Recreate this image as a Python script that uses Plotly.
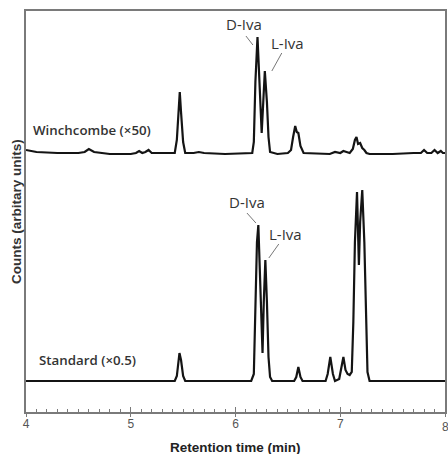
import plotly.graph_objects as go

# ---------------- data (retention time in min, counts in arbitrary units) -------------
time_std = [4.00, 5.42, 5.44, 5.455, 5.465, 5.48, 5.50, 5.52,
            6.15, 6.175, 6.19, 6.205, 6.218, 6.23, 6.245, 6.258, 6.27, 6.285, 6.30, 6.315, 6.33, 6.35,
            6.56, 6.58, 6.60, 6.62, 6.64,
            6.86, 6.88, 6.905, 6.93, 6.95, 6.99, 7.01, 7.03, 7.05, 7.07, 7.09, 7.11,
            7.125, 7.14, 7.16, 7.178, 7.19, 7.21, 7.23, 7.245, 7.26, 7.28, 8.00]
counts_std = [31, 31, 36, 52, 59, 52, 36, 31,
              31, 38, 110, 170, 187, 150, 85, 59, 110, 152, 110, 55, 35, 31,
              31, 35, 45, 35, 31,
              31, 38, 55, 38, 31, 33, 45, 55, 42, 38, 37, 40,
              90, 170, 220, 147, 190, 222, 170, 90, 40, 31, 31]

time_win = [4.00, 4.10, 4.30, 4.50, 4.56, 4.60, 4.65, 4.80, 5.00, 5.05, 5.08, 5.11, 5.14, 5.17, 5.20,
            5.42, 5.44, 5.455, 5.468, 5.48, 5.50, 5.52, 5.60, 5.65, 5.70, 5.90, 6.10,
            6.16, 6.175, 6.19, 6.21, 6.225, 6.24, 6.25, 6.265, 6.28, 6.30, 6.315, 6.33,
            6.40, 6.50, 6.53, 6.55, 6.57, 6.585, 6.60, 6.62, 6.65,
            6.90, 6.95, 7.00, 7.03, 7.06, 7.09, 7.12, 7.14, 7.155, 7.17, 7.19, 7.21, 7.23, 7.25, 7.28,
            7.50, 7.70, 7.77, 7.80, 7.83, 7.87, 7.90, 7.93, 7.96, 7.98, 8.00]
counts_win = [262, 260, 259, 259, 260, 263, 260, 258, 258, 259, 261, 259, 260, 262, 259,
              259, 272, 300, 320, 300, 270, 259, 259, 260, 259, 258, 259,
              259, 270, 330, 375, 340, 292, 279, 310, 341, 310, 275, 260,
              258, 259, 262, 275, 286, 280, 279, 266, 259,
              258, 260, 259, 261, 260, 259, 263, 272, 275, 268, 269, 264, 262, 259, 258,
              258, 259, 259, 262, 259, 259, 262, 259, 261, 259, 259]

x_ticks = [4, 5, 6, 7, 8]
x_tick_labels = ["4", "5", "6", "7", "8"]
trace_labels = ["Winchcombe (×50)", "Standard (×0.5)"]
peak_labels = ["D-Iva", "L-Iva"]

# ---------------- layout helpers (pixel -> data coordinates) ----------------
X0, X1, PX0, PX1 = 4.0, 8.0, 26, 447
Y_BOTTOM_PX = 412


def dx(px):
    return X0 + (px - PX0) * (X1 - X0) / (PX1 - PX0)


def dy(py):
    return Y_BOTTOM_PX - py


fig = go.Figure()
fig.add_trace(go.Scatter(x=time_win, y=counts_win, mode="lines",
                         line=dict(color="#141414", width=2.2), hoverinfo="skip", showlegend=False))
fig.add_trace(go.Scatter(x=time_std, y=counts_std, mode="lines",
                         line=dict(color="#141414", width=2.2), hoverinfo="skip", showlegend=False))
# invisible helper trace so the overlaid tick axis is drawn
fig.add_trace(go.Scatter(x=x_ticks, y=[None] * len(x_ticks), mode="none", xaxis="x2",
                         hoverinfo="skip", showlegend=False))

axis_col = "#7a7a7a"
tick_font = dict(family="Liberation Sans, Arial", size=12, color="#555555")
fig.update_layout(
    width=448, height=454,
    margin=dict(l=26, r=1, t=11, b=42),
    paper_bgcolor="white", plot_bgcolor="white",
    xaxis=dict(range=[X0, X1], showgrid=False, zeroline=False, showline=True, linecolor=axis_col,
               linewidth=1.5, mirror=True, tickmode="array", tickvals=x_ticks[:-1],
               ticktext=x_tick_labels[:-1],
               ticks="inside", ticklen=5, tickwidth=1.2, tickcolor=axis_col,
               minor=dict(dtick=0.1, ticks="inside", ticklen=3, tickwidth=1, tickcolor=axis_col),
               tickfont=tick_font),
    xaxis2=dict(range=[X0, X1], overlaying="x", side="bottom", anchor="y", showgrid=False,
                zeroline=False, showline=False, tickmode="array", tickvals=x_ticks,
                showticklabels=False, ticks="outside", ticklen=4, tickwidth=1.2, tickcolor=axis_col),
    yaxis=dict(range=[0, 401], showgrid=False, zeroline=False, showline=True, linecolor=axis_col,
               linewidth=1.5, mirror=True, showticklabels=False, ticks=""),
)

label_font = dict(family="Open Sans", size=13.3, color="#333333", weight=600)
peak_font = dict(family="Open Sans", size=15, color="#333333")
annotations = [
    dict(text=x_tick_labels[-1], x=x_ticks[-1], xref="x", yref="paper", y=(412 - 427) / 401,
         xanchor="center", yanchor="middle", showarrow=False, font=tick_font),
    dict(text="Retention time (min)", xref="paper", yref="paper", x=(237 - PX0) / (PX1 - PX0),
         y=(412 - 447) / 401, showarrow=False, xanchor="center", yanchor="middle",
         font=dict(family="Liberation Sans, Arial", size=13.5, color="#222222", weight="bold")),
    dict(text="Counts (arbitary units)", xref="paper", yref="paper", x=(16 - PX0) / (PX1 - PX0),
         y=(412 - 212) / 401, textangle=-90, showarrow=False, xanchor="center", yanchor="middle",
         font=dict(family="Liberation Sans, Arial", size=13.5, color="#333333", weight="bold")),
    dict(text=trace_labels[0], x=dx(31), y=dy(130), xanchor="left", yanchor="middle", showarrow=False,
         font=label_font),
    dict(text=trace_labels[1], x=dx(37), y=dy(360), xanchor="left", yanchor="middle", showarrow=False,
         font=label_font),
    dict(text=peak_labels[0], x=dx(245.5), y=dy(24), showarrow=False, font=peak_font),
    dict(text=peak_labels[1], x=dx(288.5), y=dy(43), showarrow=False, font=peak_font),
    dict(text=peak_labels[0], x=dx(248), y=dy(202), showarrow=False, font=peak_font),
    dict(text=peak_labels[1], x=dx(287), y=dy(234), showarrow=False, font=peak_font),
]
fig.update_layout(annotations=annotations)

leaders = [((247, 36), (254, 45)), ((283, 53), (273, 71)),
           ((248, 213), (257, 223)), ((280, 244), (270, 258))]
for (ax, ay), (bx, by) in leaders:
    fig.add_shape(type="line", x0=dx(ax), y0=dy(ay), x1=dx(bx), y1=dy(by), xref="x", yref="y",
                  line=dict(color="#777777", width=1))

fig.write_html("out.html", config={"displayModeBar": False},
               post_script="document.body.style.margin='0';document.body.style.overflow='hidden';")
